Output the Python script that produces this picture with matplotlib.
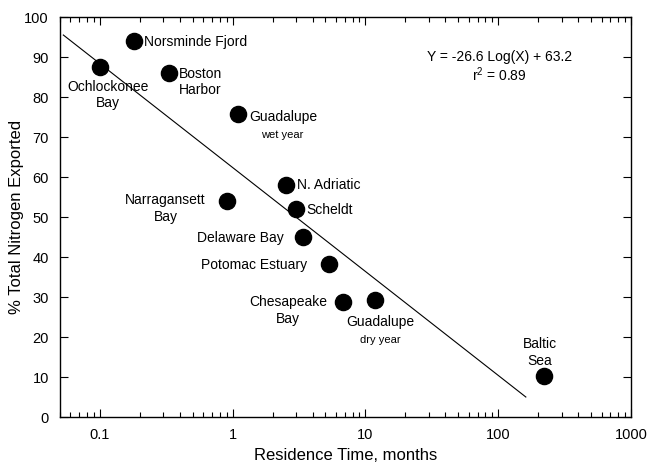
import matplotlib
matplotlib.use('Agg')
from matplotlib import pyplot as plt
from matplotlib.ticker import LogLocator, FuncFormatter, MultipleLocator

plt.rcParams['font.family'] = ['Liberation Sans', 'DejaVu Sans']
plt.rcParams['mathtext.default'] = 'regular'

# residence time (months) vs % total nitrogen exported
sites = ['Norsminde Fjord', 'Ochlockonee\nBay', 'Boston\nHarbor', 'Guadalupe', 'N. Adriatic',
         'Narragansett\nBay', 'Scheldt', 'Delaware Bay', 'Potomac Estuary', 'Chesapeake\nBay',
         'Guadalupe', 'Baltic\nSea']
res_time = [0.18, 0.10, 0.33, 1.09, 2.5, 0.90, 2.98, 3.36, 5.36, 6.8, 11.9, 222]
n_export = [94.0, 87.5, 86.0, 75.8, 57.9, 54.1, 52.1, 45.1, 38.2, 28.7, 29.2, 10.2]
notes = {3: 'wet year', 10: 'dry year'}

# regression line ends as drawn
line_x = [0.053, 161.5]
line_y = [95.5, 5.0]

# label offsets in pixels and alignment
lab_off = [(10, -1, 'left'), (8, -28, 'center'), (10, -9, 'left'), (12, -3, 'left'),
           (11, 0, 'left'), (-61, -8, 'center'), (11, -1, 'left'), (-19, -1, 'right'),
           (-22, -1, 'right'), (-55, -8, 'center'), (5, -22, 'center'), (-4, 24, 'center')]
note_off = {3: (45, -21), 10: (5, -40)}

fig = plt.figure(figsize=(6.47, 4.65), dpi=100)
ax = fig.add_axes([0.0927, 0.1032, 0.8825, 0.8602])

ax.plot(line_x, line_y, color='black', lw=0.8)
ax.scatter(res_time, n_export, s=135, color='black', zorder=3)

for i, name in enumerate(sites):
    dx, dy, ha = lab_off[i]
    ax.annotate(name, (res_time[i], n_export[i]), xytext=(dx, dy), textcoords='offset pixels',
                ha=ha, va='center', fontsize=10, linespacing=1.25)
for i, note in notes.items():
    dx, dy = note_off[i]
    ax.annotate(note, (res_time[i], n_export[i]), xytext=(dx, dy), textcoords='offset pixels',
                ha='center', va='center', fontsize=8)

ax.text(0.77, 0.90, 'Y = -26.6 Log(X) + 63.2', transform=ax.transAxes, ha='center', va='center', fontsize=10)
ax.text(0.77, 0.855, 'r$^2$ = 0.89', transform=ax.transAxes, ha='center', va='center', fontsize=10)

ax.set_xscale('log')
ax.set_xlim(0.05, 1000)
ax.set_ylim(0, 100)
ax.xaxis.set_major_locator(LogLocator(base=10))
ax.xaxis.set_minor_locator(LogLocator(base=10, subs=range(2, 10)))
ax.xaxis.set_major_formatter(FuncFormatter(lambda v, p: '{:g}'.format(v)))
ax.yaxis.set_major_locator(MultipleLocator(10))
ax.tick_params(which='both', direction='in', top=True, right=True, labelsize=10.5, width=0.8)
ax.tick_params(which='major', length=6)
ax.tick_params(which='minor', length=3.5)
ax.tick_params(axis='x', which='major', pad=8)
ax.tick_params(axis='y', which='major', pad=8)
for s in ax.spines.values():
    s.set_linewidth(1.0)

ax.set_xlabel('Residence Time, months', fontsize=12)
ax.set_ylabel('% Total Nitrogen Exported', fontsize=12, labelpad=0)

fig.savefig('out.png', dpi=100)
